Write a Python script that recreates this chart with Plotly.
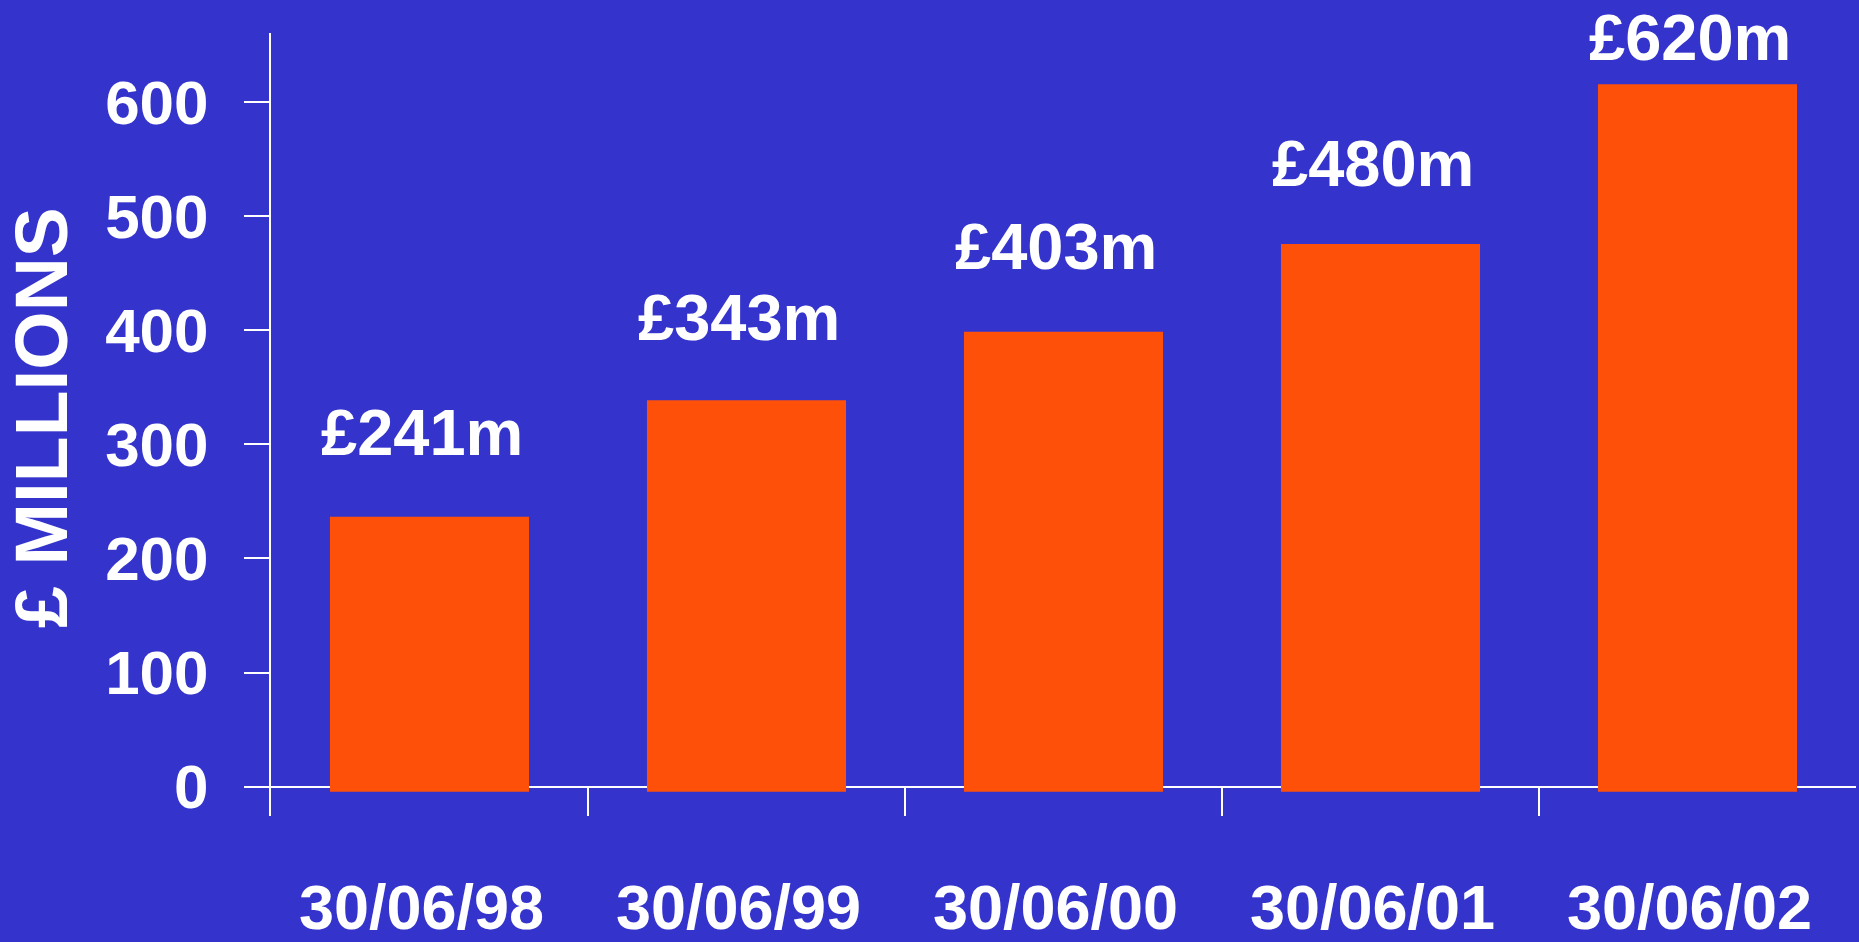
import plotly.graph_objects as go

# Dane
dates = ['30/06/98', '30/06/99', '30/06/00', '30/06/01', '30/06/02']
values = [241, 343, 403, 480, 620]
labels = ['£241m', '£343m', '£403m', '£480m', '£620m']
y_ticks = [0, 100, 200, 300, 400, 500, 600]

bg = '#3434CC'
bar_color = '#FF500A'
font_family = 'Liberation Sans, Arial'

# słupki w oryginale zaczynają się kilka px pod linią zera
bar_base = -4.4
# pionowe przesunięcie etykiet nad słupkami (px)
label_shift = [41, 39, 42, 37, 3]

fig = go.Figure()

fig.add_trace(go.Bar(
    x=dates,
    y=values,
    base=bar_base,
    marker_color=bar_color,
    marker_line_width=0,
    width=0.628,
    showlegend=False,
    hoverinfo='skip',
))

for d, v, t, s in zip(dates, values, labels, label_shift):
    fig.add_annotation(
        x=d, y=v, xref='x', yref='y',
        text=t, showarrow=False,
        yanchor='bottom', yshift=s, xshift=-8,
        font=dict(family=font_family, size=65, color='white', weight='bold'),
    )

# tytuł osi Y
fig.add_annotation(
    x=(42 - 271.5) / 1585.5, y=0.509, xref='paper', yref='paper',
    text='£ MILLIONS', textangle=-90, showarrow=False,
    xanchor='center', yanchor='middle',
    font=dict(family=font_family, size=75, color='white', weight='bold'),
)

fig.update_layout(
    width=1859,
    height=942,
    paper_bgcolor=bg,
    plot_bgcolor=bg,
    margin=dict(l=271, r=3, t=33, b=126),
    xaxis=dict(
        range=[-0.5, 4.5],
        automargin=False,
        showgrid=False,
        showline=False,
        zeroline=False,
        ticks='inside',
        tickson='boundaries',
        ticklen=29,
        tickwidth=2,
        tickcolor='white',
        ticklabelstandoff=49,
        ticklabelshift=-8,
        tickfont=dict(family=font_family, size=63, color='white', weight='bold'),
    ),
    yaxis=dict(
        range=[-25.7, 660.5],
        automargin=False,
        tickvals=y_ticks,
        showgrid=False,
        showline=True,
        linecolor='white',
        linewidth=2,
        zeroline=True,
        zerolinecolor='white',
        zerolinewidth=2,
        ticks='outside',
        ticklen=25,
        tickwidth=2,
        tickcolor='white',
        ticklabelstandoff=23,
        tickfont=dict(family=font_family, size=62, color='white', weight='bold'),
    ),
)

fig.write_html(
    "out.html",
    config={'displayModeBar': False},
    post_script="document.body.style.margin='0';document.body.style.background='%s';" % bg,
)
